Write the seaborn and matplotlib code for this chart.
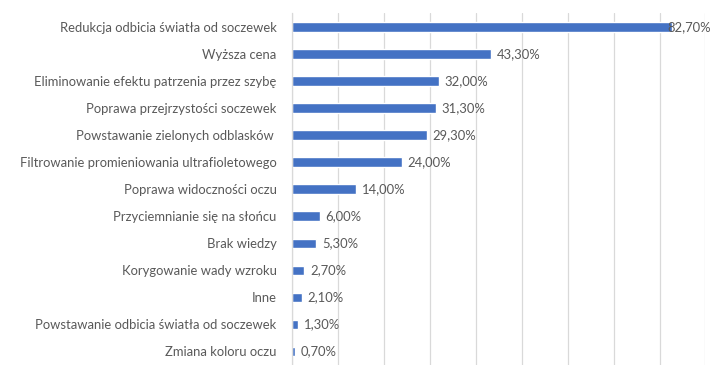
import matplotlib
matplotlib.use("Agg")
import matplotlib.pyplot as plt
import seaborn as sns
import pandas as pd

# Reasons given, with the share of respondents (%)
categories = [
    "Redukcja odbicia światła od soczewek",
    "Wyższa cena",
    "Eliminowanie efektu patrzenia przez szybę",
    "Poprawa przejrzystości soczewek",
    "Powstawanie zielonych odblasków ",
    "Filtrowanie promieniowania ultrafioletowego",
    "Poprawa widoczności oczu",
    "Przyciemnianie się na słońcu",
    "Brak wiedzy",
    "Korygowanie wady wzroku",
    "Inne",
    "Powstawanie odbicia światła od soczewek",
    "Zmiana koloru oczu",
]
values = [82.7, 43.3, 32.0, 31.3, 29.3, 24.0, 14.0, 6.0, 5.3, 2.7, 2.1, 1.3, 0.7]
value_labels = ["82,70%", "43,30%", "32,00%", "31,30%", "29,30%", "24,00%", "14,00%",
                "6,00%", "5,30%", "2,70%", "2,10%", "1,30%", "0,70%"]

df = pd.DataFrame({"kategoria": categories, "procent": values})

sns.set_style("white")
plt.rcParams["font.family"] = ["Lato", "DejaVu Sans"]

TEXT = "#595959"
GRID = "#d9d9d9"
BAR = "#4472C4"
FS = 9.4

fig = plt.figure(figsize=(7.11, 3.65), dpi=100)
ax = fig.add_axes([0.4107, 0.0, 0.5815, 0.9635])

sns.barplot(data=df, x="procent", y="kategoria", orient="h", color=BAR,
            width=0.35, saturation=1, ax=ax, order=categories)

ax.set_xlim(0, 90)
ax.set_ylim(len(categories) - 0.5, -0.5)
ax.set_xlabel("")
ax.set_ylabel("")

# vertical gridlines every 10 %, no x tick labels
ax.set_xticks(range(0, 91, 10))
ax.tick_params(axis="x", length=0, labelbottom=False)
ax.grid(axis="x", color=GRID, linewidth=0.9)
ax.set_axisbelow(True)

# category labels, with small tick marks between categories
ax.tick_params(axis="y", which="major", length=0, pad=11, labelsize=FS, labelcolor=TEXT)
ax.set_yticks([i - 0.5 for i in range(len(categories) + 1)], minor=True)
ax.tick_params(axis="y", which="minor", length=4, width=0.9, color=GRID, direction="out")

for side in ["top", "right", "bottom"]:
    ax.spines[side].set_visible(False)
ax.spines["left"].set_color(GRID)
ax.spines["left"].set_linewidth(0.9)

# value labels at the end of each bar; the longest bar's label sits on its tip
for i, (v, lab) in enumerate(zip(values, value_labels)):
    off = -3 if v == max(values) else 4
    ax.annotate(lab, xy=(v, i), xytext=(off, 0), textcoords="offset points",
                ha="left", va="center", fontsize=FS, color=TEXT, annotation_clip=False)

fig.savefig("out.png", dpi=100)
